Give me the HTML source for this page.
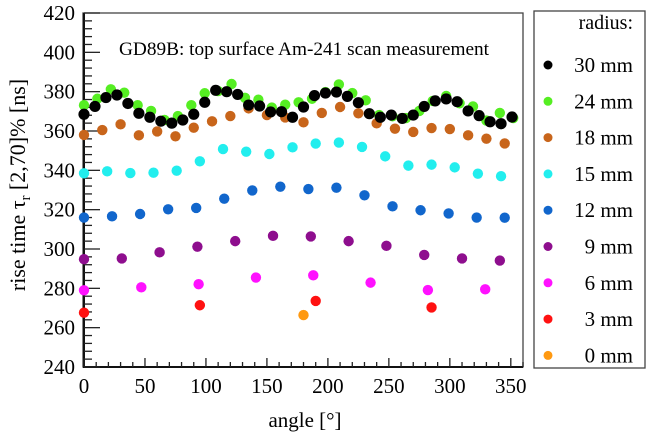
<!DOCTYPE html>
<html><head><meta charset="utf-8"><style>
body{margin:0;background:#fff}
svg{display:block;font-family:"Liberation Serif",serif}
</style></head><body>
<svg id="chart" width="646" height="435" viewBox="0 0 646 435" xmlns="http://www.w3.org/2000/svg">
<rect x="0" y="0" width="646" height="435" fill="#fff"/>
<rect x="83" y="13" width="440" height="354" fill="none" stroke="#444" stroke-width="1.3"/>
<line x1="84" y1="13" x2="84" y2="367" stroke="#111" stroke-width="2"/>
<line x1="83" y1="367" x2="523" y2="367" stroke="#111" stroke-width="2"/>
<g id="axes"></g>
<text x="304" y="55" font-size="19.3" text-anchor="middle">GD89B: top surface Am-241 scan measurement</text>
<text x="305" y="427" font-size="21" text-anchor="middle">angle [°]</text>
<text transform="translate(25,185) rotate(-90)" font-size="22" text-anchor="middle">rise time τ<tspan font-size="14.5" dy="5">r</tspan><tspan dy="-5"> [2,70]% [ns]</tspan></text>
<g id="points"></g>
<rect x="534" y="11" width="111" height="357" fill="#fff" stroke="#444" stroke-width="1.3"/>
<text x="633" y="29" font-size="20" text-anchor="end">radius:</text>
<g id="legend"></g>
</svg>
<script>
const seriesLabels = ["30 mm","24 mm","18 mm","15 mm","12 mm","9 mm","6 mm","3 mm","0 mm"];
const seriesColors = ["#000000","#55ee22","#c8651b","#22eeee","#1166cc","#8e0e8e","#ff11ff","#ff1111","#ff9911"];
const seriesStep = [9,11,15,19,23,31,47,95,180];
const s30 = [368.5,372.5,377,378.3,374,369,367,365,364,365.6,368.5,374.6,380.7,380,378.6,373.2,372.7,369.7,369.8,367,372.2,378,379.3,379.8,377.6,374.4,368.8,367,368.1,366.4,368.1,372.5,375.3,376.3,374.9,370.2,367.8,364.7,363.7,367.1];
const s24 = [373.1,376.4,381.2,379.5,373.1,370.2,365.6,367.6,373.1,379.2,380.3,383.9,376.9,375.9,371.9,373.4,374.6,376.4,379.8,383.7,379.3,375.6,368.1,367.5,366.6,370.2,375.3,377.8,374.1,372.5,365.3,369.2,366.6];
const s18 = [358,360.5,363.4,357.8,359.8,357.3,361.7,364.9,367.6,371.5,368.1,366.9,364.4,369.2,372.2,369,363.9,361.2,359.5,361.5,361,357.8,356.1,353.7];
const s15 = [338.5,339.5,338.6,338.8,339.8,344.6,350.8,349.5,348.3,351.7,353.6,354.1,351.9,347.1,342.4,342.9,341.5,338.3,337];
const s12 = [316,316.6,317.8,320.2,320.9,325.6,329.8,331.7,330.5,331.2,327.3,321.7,319.7,318.1,316,315.9];
const s9 = [294.8,295.2,298.3,301.2,304,306.7,306.4,304,301.6,297,295.2,294.1];
const s6 = [279,280.5,282.1,285.5,286.6,282.9,279.1,279.5];
const s3 = [267.6,271.4,273.6,270.3];
const s0 = [266.4];
const s0Angle = [180];
const seriesValues = [s30,s24,s18,s15,s12,s9,s6,s3,s0];
const xTicks = [0,50,100,150,200,250,300,350];
const yTicks = [240,260,280,300,320,340,360,380,400,420];

const L=84,R=523,T=13,B=367, XMIN=0,XMAX=360,YMIN=240,YMAX=420;
const NS="http://www.w3.org/2000/svg";
function xs(v){return L+(v-XMIN)/(XMAX-XMIN)*(R-L);}
function ys(v){return B-(v-YMIN)/(YMAX-YMIN)*(B-T);}
function mk(tag,attrs,parent){const e=document.createElementNS(NS,tag);for(const k in attrs)e.setAttribute(k,attrs[k]);parent.appendChild(e);return e;}
const ax=document.getElementById('axes');
for(let v=YMIN;v<=YMAX;v+=4){const major=(v%20===0);
 const t=mk('line',{x1:L,x2:L+(major?16:8),y1:ys(v),y2:ys(v),stroke:'#222','stroke-width':1.3},ax);
 
 }
yTicks.forEach(v=>{const t=mk('text',{x:L-9,y:ys(v)+7,'font-size':21,'text-anchor':'end'},ax);t.textContent=v;
 
 });
for(let v=XMIN;v<=XMAX;v+=10){const major=(v%50===0);
 const t=mk('line',{x1:xs(v),x2:xs(v),y1:B,y2:B-(major?9:5),stroke:'#222','stroke-width':1.3},ax);
 
 }
xTicks.forEach(v=>{const t=mk('text',{x:xs(v),y:B+26,'font-size':21,'text-anchor':'middle'},ax);t.textContent=v;
 
 });
const pg=document.getElementById('points');
for(let s=seriesValues.length-1;s>=0;s--){
 const g=mk('g',{},pg);
 
 
 seriesValues[s].forEach((v,i)=>{
  const a = s===8 ? s0Angle[i] : i*seriesStep[s];
  const c=mk('circle',{cx:xs(a),cy:ys(v),r:s===0?5.6:5.2,fill:seriesColors[s]},g);
  
  
 });
}
const lg=document.getElementById('legend');
seriesLabels.forEach((lab,i)=>{const y=65+i*36.3;
 const c=mk('circle',{cx:548,cy:y,r:4.5,fill:seriesColors[i]},lg);
 
 
 const t=mk('text',{x:633,y:y+7,'font-size':21,'text-anchor':'end'},lg);t.textContent=lab;
 
 });
</script>
</body></html>
